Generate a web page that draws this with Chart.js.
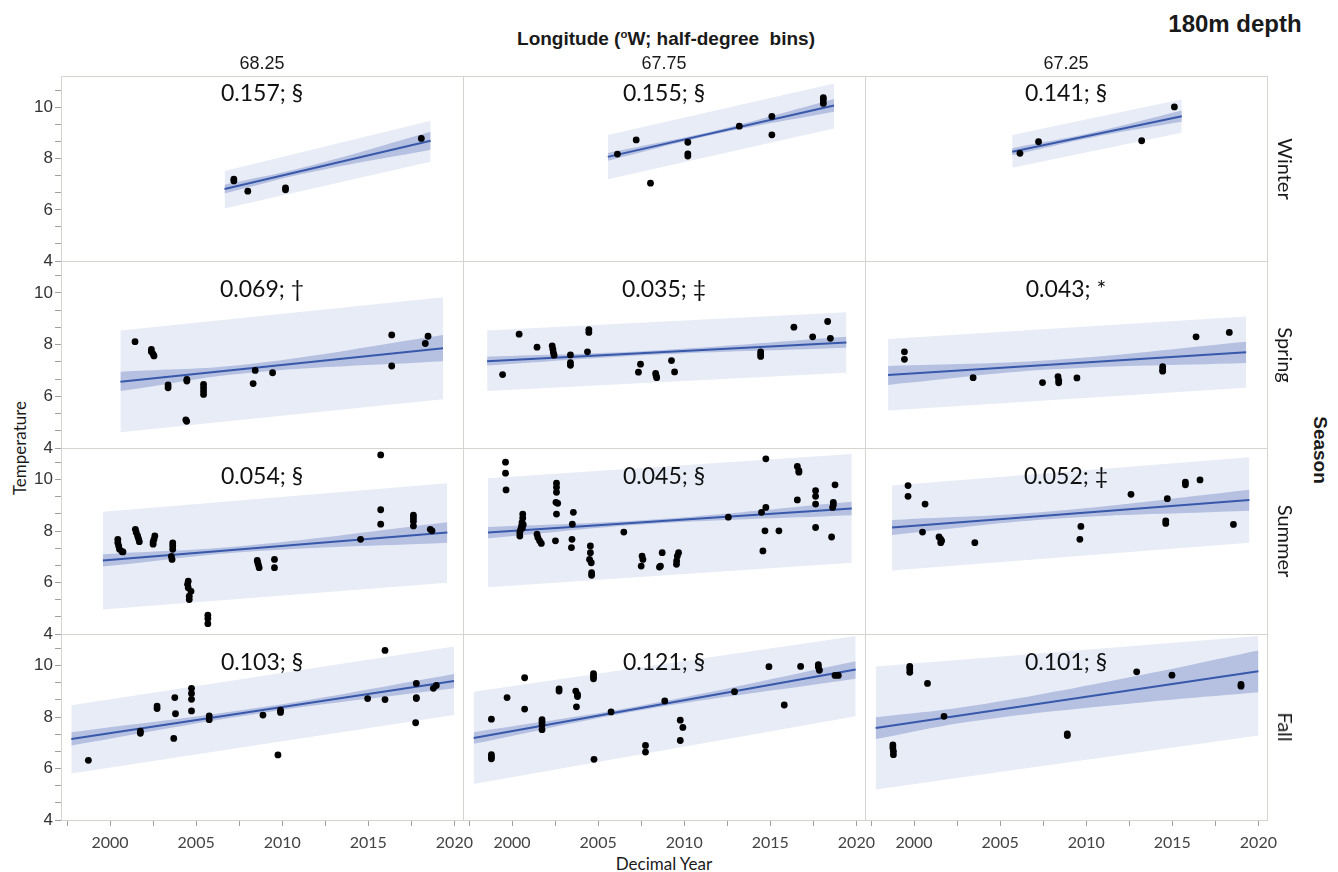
<!DOCTYPE html>
<html>
<head>
<meta charset="utf-8">
<title>180m depth</title>
<script src="https://cdn.jsdelivr.net/npm/chart.js@4.4.1/dist/chart.umd.min.js"></script>
<style>
  body { margin: 0; background: #fff; }
  #root { position: relative; width: 1338px; height: 872px; overflow: hidden; }
  #root canvas { position: absolute; left: 0; top: 0; }
  .t { position: absolute; transform: translate(-50%, -50%); white-space: pre; color: #1a1a1a; }
  .t sup { font-size: 0.6em; }
</style>
</head>
<body>
<div id="root">
  <div class="t" style="left:666px;top:39px;font:bold 19px 'Liberation Sans'">Longitude (<sup>o</sup>W; half-degree  bins)</div>
  <div class="t" style="left:1235px;top:24px;font:bold 24px 'Liberation Sans'">180m depth</div>
  <div class="t" style="left:19px;top:448px;font:17px Lato;transform:translate(-50%,-50%) rotate(-90deg)">Temperature</div>
  <div class="t" style="left:1320px;top:450px;font:bold 19px 'Liberation Sans';transform:translate(-50%,-50%) rotate(90deg)">Season</div>
  <div class="t" style="left:664px;top:863px;font:17px Lato">Decimal Year</div>
</div>
<script>
// labels
const seasons = ['Winter', 'Spring', 'Summer', 'Fall'];
const longitudes = ['68.25', '67.75', '67.25'];
const slopeLabels = [
  ['0.157; §', '0.155; §', '0.141; §'],
  ['0.069; †', '0.035; ‡', '0.043; *'],
  ['0.054; §', '0.045; §', '0.052; ‡'],
  ['0.103; §', '0.121; §', '0.101; §'],
];

// axis ticks
const yTickValues = [4, 14 / 3, 16 / 3, 6, 20 / 3, 22 / 3, 8, 26 / 3, 28 / 3, 10, 32 / 3];
const yTickLabels = ['4', '', '', '6', '', '', '8', '', '', '10', ''];
const xTickValues = [1997.5, 2000, 2002.5, 2005, 2007.5, 2010, 2012.5, 2015, 2017.5, 2020];
const xTickLabels = ['', '2000', '', '2005', '', '2010', '', '2015', '', '2020'];

// observations [decimal year, temperature]
const winter68_25 = [[2007.19, 7.20], [2007.19, 7.13], [2008.0, 6.73], [2010.19, 6.86], [2010.19, 6.78], [2018.08, 8.79]];
const winter67_75 = [[2006.12, 8.18], [2007.21, 8.73], [2008.04, 7.04], [2010.21, 8.64], [2010.21, 8.19], [2010.21, 8.10],
  [2013.2, 9.27], [2015.09, 9.65], [2015.09, 8.93], [2018.08, 10.38], [2018.08, 10.29], [2018.08, 10.16]];
const winter67_25 = [[2006.15, 8.21], [2007.23, 8.66], [2013.22, 8.70], [2015.12, 10.02]];

const spring68_25 = [[2001.45, 8.11], [2002.4, 7.81], [2002.4, 7.72], [2002.5, 7.63], [2002.55, 7.56], [2003.37, 6.44],
  [2003.37, 6.33], [2004.46, 6.65], [2004.46, 6.59], [2004.4, 5.09], [2004.45, 5.03], [2005.43, 6.46], [2005.43, 6.33],
  [2005.43, 6.20], [2005.43, 6.07], [2008.31, 6.49], [2008.43, 7.0], [2009.44, 6.91], [2016.36, 8.37], [2016.36, 7.17],
  [2018.31, 8.04], [2018.47, 8.32]];
const spring67_75 = [[1999.45, 6.84], [2000.41, 8.40], [2001.45, 7.90], [2002.33, 7.95], [2002.37, 7.82], [2002.4, 7.69],
  [2002.44, 7.59], [2003.39, 7.60], [2003.39, 7.30], [2003.39, 7.20], [2004.38, 7.72], [2004.46, 8.58], [2004.46, 8.47],
  [2007.46, 7.24], [2007.34, 6.93], [2008.34, 6.88], [2008.37, 6.79], [2008.4, 6.72], [2009.26, 7.38], [2009.44, 6.94],
  [2014.44, 7.72], [2014.44, 7.63], [2014.44, 7.54], [2016.37, 8.67], [2017.46, 8.30], [2018.33, 8.89], [2018.49, 8.24]];
const spring67_25 = [[1999.44, 7.72], [1999.44, 7.43], [2003.43, 6.72], [2007.46, 6.53], [2008.36, 6.76], [2008.4, 6.62],
  [2008.4, 6.52], [2009.46, 6.71], [2014.44, 7.15], [2014.44, 7.04], [2014.44, 6.97], [2016.38, 8.30], [2018.31, 8.47]];

const summer68_25 = [[2000.45, 7.68], [2000.45, 7.55], [2000.5, 7.42], [2000.55, 7.29], [2000.7, 7.20], [2000.75, 7.19],
  [2001.47, 8.07], [2001.52, 7.95], [2001.6, 7.81], [2001.65, 7.71], [2001.7, 7.59],
  [2002.6, 7.81], [2002.55, 7.68], [2002.5, 7.58], [2002.5, 7.49],
  [2003.64, 7.54], [2003.64, 7.42], [2003.64, 7.29], [2003.56, 7.02], [2003.6, 6.90],
  [2004.54, 6.05], [2004.5, 5.93], [2004.54, 5.80], [2004.7, 5.66], [2004.6, 5.47], [2004.6, 5.34],
  [2005.68, 4.73], [2005.68, 4.60], [2005.68, 4.40],
  [2008.55, 6.86], [2008.58, 6.77], [2008.62, 6.68], [2008.66, 6.58], [2009.55, 6.90], [2009.55, 6.58],
  [2014.55, 7.68], [2015.72, 10.96], [2015.72, 8.83], [2015.72, 8.27],
  [2017.62, 8.62], [2017.62, 8.50], [2017.62, 8.38], [2017.62, 8.20], [2018.6, 8.07], [2018.7, 8.01]];
const summer67_75 = [[1999.62, 10.68], [1999.62, 10.25], [1999.65, 9.60],
  [2000.62, 8.66], [2000.62, 8.51], [2000.58, 8.34], [2000.55, 8.20], [2000.5, 8.07], [2000.45, 7.95], [2000.45, 7.81],
  [2000.65, 8.25], [2000.6, 8.12], [2001.45, 7.88], [2001.5, 7.75], [2001.6, 7.62], [2001.7, 7.52],
  [2002.58, 9.86], [2002.58, 9.70], [2002.58, 9.51], [2002.55, 9.12], [2002.65, 9.08], [2002.58, 8.66], [2002.52, 7.62],
  [2003.56, 8.73], [2003.5, 8.27], [2003.48, 7.68], [2003.45, 7.36],
  [2004.55, 7.42], [2004.55, 7.16], [2004.5, 6.90], [2004.6, 6.77], [2004.62, 6.38], [2004.62, 6.28],
  [2006.49, 7.96], [2007.55, 7.03], [2007.6, 6.90], [2007.5, 6.64],
  [2008.72, 7.16], [2008.56, 6.60], [2008.62, 6.64], [2009.67, 7.16], [2009.6, 7.03], [2009.56, 6.84], [2009.55, 6.71],
  [2012.56, 8.54], [2014.74, 10.81], [2014.74, 8.92], [2014.49, 8.73], [2014.69, 8.01], [2014.57, 7.23], [2015.5, 8.01],
  [2016.57, 10.51], [2016.66, 10.35], [2016.66, 10.29], [2016.57, 9.21],
  [2017.63, 9.57], [2017.63, 9.35], [2017.63, 9.05], [2017.63, 8.14],
  [2018.76, 9.80], [2018.66, 9.12], [2018.66, 9.01], [2018.62, 8.92], [2018.56, 7.77]];
const summer67_25 = [[1999.65, 9.77], [1999.65, 9.35], [2000.64, 9.05], [2000.49, 7.96], [2001.45, 7.77], [2001.55, 7.68],
  [2001.6, 7.62], [2001.55, 7.55], [2003.53, 7.55], [2009.69, 8.18], [2009.63, 7.68], [2012.6, 9.43], [2014.71, 9.26],
  [2014.62, 8.40], [2014.62, 8.30], [2015.76, 9.90], [2015.76, 9.80], [2016.61, 9.99], [2018.55, 8.26]];

const fall68_25 = [[1998.74, 6.32], [2001.76, 7.45], [2001.76, 7.37], [2002.73, 8.43], [2002.73, 8.33], [2003.76, 8.76],
  [2003.8, 8.13], [2003.7, 7.17], [2004.73, 9.12], [2004.73, 8.92], [2004.73, 8.69], [2004.73, 8.24], [2005.76, 8.05],
  [2005.76, 7.90], [2008.88, 8.08], [2009.75, 6.53], [2009.9, 8.27], [2009.9, 8.18], [2014.96, 8.72], [2015.97, 10.59],
  [2015.97, 8.68], [2017.79, 9.31], [2017.79, 8.76], [2017.79, 8.72], [2017.75, 7.78], [2018.78, 9.12], [2018.95, 9.23]];
const fall67_75 = [[1998.8, 7.92], [1998.8, 6.54], [1998.8, 6.45], [1998.8, 6.38], [1999.71, 8.76], [2000.73, 9.53],
  [2000.73, 8.31], [2001.74, 7.90], [2001.74, 7.80], [2001.74, 7.69], [2001.74, 7.51], [2002.73, 9.10], [2002.73, 9.01],
  [2003.7, 9.01], [2003.8, 8.88], [2003.8, 8.80], [2003.74, 8.40], [2004.73, 9.69], [2004.73, 9.59], [2004.73, 9.49],
  [2004.76, 6.36], [2005.75, 8.20], [2007.75, 6.90], [2007.75, 6.64], [2008.87, 8.63], [2009.77, 7.88], [2009.92, 7.60],
  [2009.77, 7.09], [2012.92, 8.99], [2014.92, 9.96], [2015.81, 8.47], [2016.76, 9.97], [2017.79, 10.04], [2017.79, 9.95],
  [2017.85, 9.82], [2018.76, 9.62], [2018.95, 9.62]];
const fall67_25 = [[1998.77, 6.92], [1998.77, 6.80], [1998.8, 6.67], [1998.8, 6.54], [1999.75, 9.97], [1999.75, 9.87],
  [1999.75, 9.74], [2000.78, 9.31], [2001.74, 8.03], [2008.9, 7.35], [2008.9, 7.28], [2012.93, 9.76], [2014.98, 9.63],
  [2018.99, 9.27], [2018.99, 9.20]];

const panelPoints = [
  [winter68_25, winter67_75, winter67_25],
  [spring68_25, spring67_75, spring67_25],
  [summer68_25, summer67_75, summer67_25],
  [fall68_25, fall67_75, fall67_25],
];

// fitted line ends, row by row (Winter..Fall), left to right
const fitLines = [
  [[2006.65, 6.81], [2018.62, 8.70]], [[2005.56, 8.07], [2018.70, 10.08]], [[2005.70, 8.27], [2015.55, 9.66]],
  [[2000.60, 6.56], [2019.34, 7.86]], [[1998.55, 7.35], [2019.42, 8.08]], [[1998.49, 6.82], [2019.29, 7.70]],
  [[1999.58, 6.86], [2019.59, 7.95]], [[1998.60, 7.95], [2019.73, 8.88]], [[1998.72, 8.14], [2019.48, 9.21]],
  [[1997.75, 7.15], [2019.98, 9.40]], [[1997.77, 7.19], [2019.96, 9.85]], [[1997.77, 7.58], [2020.0, 9.78]],
];

// confidence band of the fit
const ciUpper = [
  [[2006.65, 6.98], [2011.5, 7.70], [2018.62, 9.05]], [[2005.56, 8.22], [2012, 9.13], [2018.70, 10.33]], [[2005.70, 8.41], [2010.5, 9.04], [2015.55, 9.88]],
  [[2000.60, 6.95], [2008, 7.24], [2019.34, 8.37]], [[1998.55, 7.53], [2008, 7.76], [2019.42, 8.30]], [[1998.49, 7.17], [2008, 7.40], [2019.29, 8.11]],
  [[1999.58, 7.10], [2008, 7.44], [2019.59, 8.34]], [[1998.60, 8.16], [2008, 8.44], [2019.73, 9.14]], [[1998.72, 8.43], [2008, 8.77], [2019.48, 9.61]],
  [[1997.75, 7.41], [2009, 8.40], [2019.98, 9.68]], [[1997.77, 7.41], [2007.5, 8.45], [2019.96, 10.17]], [[1997.77, 7.99], [2003.5, 8.45], [2012.9, 9.60], [2020.0, 10.59]],
];
const ciLower = [
  [[2006.65, 6.64], [2011.5, 7.45], [2018.62, 8.35]], [[2005.56, 7.92], [2012, 8.98], [2018.70, 9.83]], [[2005.70, 8.13], [2010.5, 8.85], [2015.55, 9.44]],
  [[2000.60, 6.20], [2008, 6.90], [2019.34, 7.35]], [[1998.55, 7.19], [2008, 7.60], [2019.42, 7.88]], [[1998.49, 6.44], [2008, 7.04], [2019.29, 7.29]],
  [[1999.58, 6.62], [2008, 7.20], [2019.59, 7.55]], [[1998.60, 7.72], [2008, 8.28], [2019.73, 8.62]], [[1998.72, 7.85], [2008, 8.47], [2019.48, 8.79]],
  [[1997.75, 6.90], [2009, 8.18], [2019.98, 9.12]], [[1997.77, 6.96], [2007.5, 8.27], [2019.96, 9.49]], [[1997.77, 7.15], [2003.5, 7.85], [2012.9, 8.55], [2020.0, 8.97]],
];

// prediction band
const piUpper = [
  [[2006.65, 7.52], [2018.62, 9.48]], [[2005.56, 8.92], [2018.70, 10.94]], [[2005.70, 8.92], [2015.55, 10.32]],
  [[2000.60, 8.54], [2019.34, 9.83]], [[1998.55, 8.54], [2019.42, 9.25]], [[1998.49, 8.21], [2019.29, 9.08]],
  [[1999.58, 8.75], [2019.59, 9.86]], [[1998.60, 10.05], [2019.73, 11.0]], [[1998.72, 9.77], [2019.48, 10.87]],
  [[1997.75, 8.46], [2019.98, 10.74]], [[1997.77, 8.99], [2019.96, 11.15]], [[1997.77, 9.97], [2020.0, 11.15]],
];
const piLower = [
  [[2006.65, 6.05], [2018.62, 7.88]], [[2005.56, 7.19], [2018.70, 9.18]], [[2005.70, 7.64], [2015.55, 9.01]],
  [[2000.60, 4.61], [2019.34, 5.88]], [[1998.55, 6.20], [2019.42, 6.91]], [[1998.49, 5.45], [2019.29, 6.33]],
  [[1999.58, 4.95], [2019.59, 5.99]], [[1998.60, 5.82], [2019.73, 6.77]], [[1998.72, 6.47], [2019.48, 7.55]],
  [[1997.75, 5.81], [2019.98, 8.08]], [[1997.77, 5.40], [2019.96, 8.03]], [[1997.77, 5.19], [2020.0, 7.28]],
];

// where the slope text sits, in temperature units, per row
const slopeTextY = [10.55, 10.13, 10.13, 10.13];

const W = 1338, H = 872;
const COL_L = [61, 463, 865];
const COL_R = [463, 865, 1267];
const ROW_T = [76, 261, 448, 634];
const ROW_B = [261, 448, 634, 820];

const PI_COLOR = '#e8ecf6';
const CI_COLOR = '#b6c1e2';
const LINE_COLOR = '#3858aa';
const FRAME_COLOR = '#d6d4cf';
const TICK_COLOR = '#a0a0a0';

const toXY = (arr) => arr.map(p => ({ x: p[0], y: p[1] }));

const framePlugin = {
  id: 'panelFrame',
  beforeDatasetsDraw(chart) {
    const a = chart.chartArea;
    const ctx = chart.ctx;
    ctx.save();
    ctx.strokeStyle = FRAME_COLOR;
    ctx.lineWidth = 1;
    ctx.strokeRect(Math.round(a.left) + 0.5, Math.round(a.top) + 0.5,
      Math.round(a.right) - Math.round(a.left), Math.round(a.bottom) - Math.round(a.top));
    ctx.restore();
  }
};

const slopePlugin = {
  id: 'slopeText',
  afterDatasetsDraw(chart, args, opts) {
    const a = chart.chartArea;
    const ctx = chart.ctx;
    ctx.save();
    ctx.font = "23px Lato";
    ctx.fillStyle = '#111';
    ctx.textAlign = 'center';
    ctx.textBaseline = 'middle';
    ctx.fillText(opts.text, (a.left + a.right) / 2, chart.scales.y.getPixelForValue(opts.yValue));
    ctx.restore();
  }
};

const root = document.getElementById('root');

function addLabel(text, x, y, font, rotate) {
  const d = document.createElement('div');
  d.className = 't';
  d.style.left = x + 'px';
  d.style.top = y + 'px';
  d.style.font = font;
  if (rotate) d.style.transform = 'translate(-50%,-50%) rotate(' + rotate + 'deg)';
  d.textContent = text;
  root.appendChild(d);
}

function makePanel(r, c) {
  const k = r * 3 + c;
  const showY = c === 0;
  const showX = r === 3;
  const canvas = document.createElement('canvas');
  canvas.width = W;
  canvas.height = H;
  root.appendChild(canvas);

  new Chart(canvas, {
    type: 'line',
    data: {
      datasets: [
        { data: toXY(panelPoints[r][c]), showLine: false, pointRadius: 3.4, pointBackgroundColor: '#000', pointBorderWidth: 0 },
        { data: toXY(fitLines[k]), borderColor: LINE_COLOR, borderWidth: 2, pointRadius: 0, fill: false },
        { data: toXY(ciUpper[k]), borderWidth: 0, pointRadius: 0, tension: 0.4, fill: '+1', backgroundColor: CI_COLOR },
        { data: toXY(ciLower[k]), borderWidth: 0, pointRadius: 0, tension: 0.4, fill: false },
        { data: toXY(piUpper[k]), borderWidth: 0, pointRadius: 0, fill: '+1', backgroundColor: PI_COLOR },
        { data: toXY(piLower[k]), borderWidth: 0, pointRadius: 0, fill: false },
      ]
    },
    options: {
      responsive: false,
      animation: false,
      events: [],
      layout: {
        padding: {
          left: showY ? 0 : COL_L[c],
          top: ROW_T[r],
          right: W - COL_R[c],
          bottom: H - ROW_B[r] - (showX ? 40 : 0)
        }
      },
      plugins: {
        legend: { display: false },
        tooltip: { enabled: false },
        slopeText: { text: slopeLabels[r][c], yValue: slopeTextY[r] }
      },
      scales: {
        x: {
          type: 'linear',
          min: 1997.15,
          max: 2020.5,
          display: showX,
          afterBuildTicks: (s) => { s.ticks = xTickValues.map(v => ({ value: v })); },
          afterFit: (s) => { s.height = showX ? 40 : 0; },
          border: { display: false },
          grid: { drawOnChartArea: false, drawTicks: true, tickLength: 6, color: TICK_COLOR },
          ticks: {
            autoSkip: false, maxRotation: 0, padding: 7, color: '#444',
            font: { family: 'Lato', size: 16 },
            callback: (v, i) => xTickLabels[i]
          }
        },
        y: {
          type: 'linear',
          min: 4,
          max: 11.23,
          display: showY,
          afterBuildTicks: (s) => { s.ticks = yTickValues.map(v => ({ value: v })); },
          afterFit: (s) => { s.width = showY ? 61 : 0; },
          border: { display: false },
          grid: { drawOnChartArea: false, drawTicks: true, tickLength: 6, color: TICK_COLOR },
          ticks: {
            autoSkip: false, padding: 2, color: '#333',
            font: { family: 'Liberation Sans', size: 17 },
            callback: (v, i) => yTickLabels[i]
          }
        }
      }
    },
    plugins: [framePlugin, slopePlugin]
  });
}

function main() {
  for (let r = 0; r < seasons.length; r++) {
    for (let c = 0; c < longitudes.length; c++) {
      makePanel(r, c);
    }
    addLabel(seasons[r], 1286, (ROW_T[r] + ROW_B[r]) / 2, '20px Lato', 90);
  }
  longitudes.forEach((lon, c) => {
    addLabel(lon, (COL_L[c] + COL_R[c]) / 2, 63, "18px 'Liberation Sans'");
  });
}

main();
</script>
</body>
</html>
